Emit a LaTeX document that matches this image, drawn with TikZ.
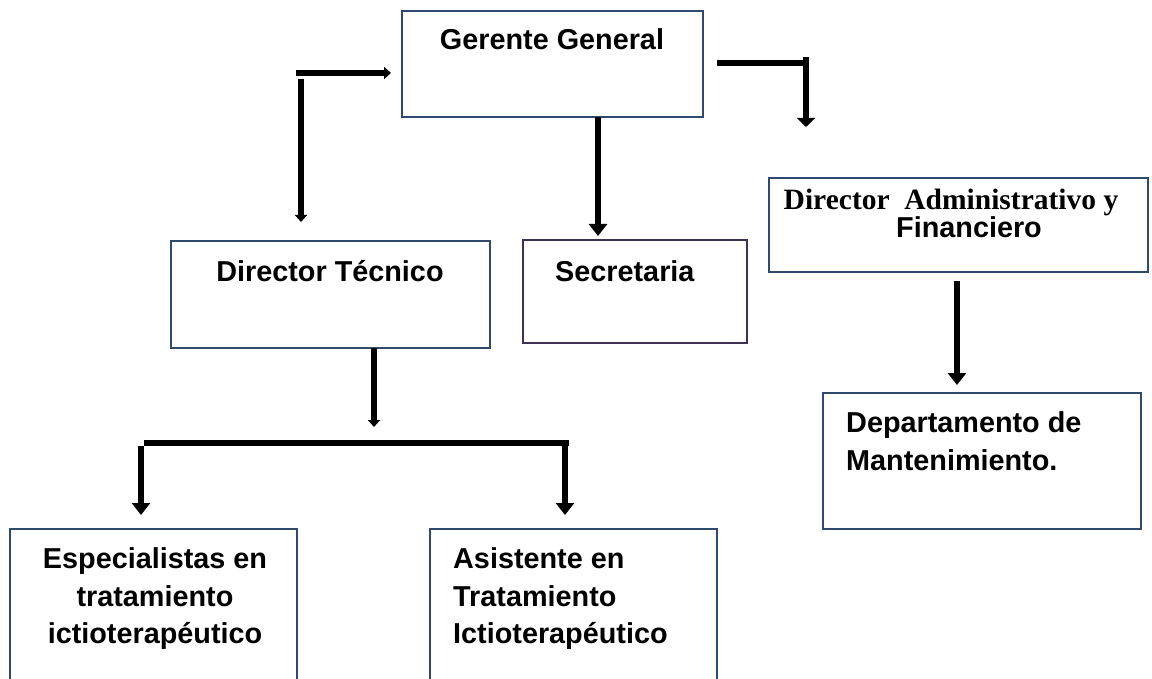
\documentclass[tikz,border=0pt]{standalone}
\usepackage{fontspec}
\setmainfont{Liberation Sans}
\newfontfamily\timesfam{Liberation Serif}
\usetikzlibrary{arrows.meta}
\definecolor{boxblue}{HTML}{2E4A6E}
\definecolor{boxpurple}{HTML}{3F3151}
\begin{document}
\begin{tikzpicture}[x=1pt,y=-1pt,
  box/.style={draw=boxblue,line width=2.5pt,inner sep=0pt,fill=white},
  txt/.style={font=\fontsize{28.8}{34}\selectfont\bfseries,inner sep=0pt},
  sertxt/.style={font=\timesfam\bfseries\fontsize{29.5}{34}\selectfont,inner sep=0pt},
  conn/.style={line width=6pt},
  bighead/.style={-{Triangle[width=18pt,length=12pt]}},
  flathead/.style={-{Triangle[width=18pt,length=9pt]}},
  smallhead/.style={-{Triangle[width=12pt,length=7pt]}}]
\useasboundingbox (0,0) rectangle (1152,679);
\clip (0,0) rectangle (1152,679);

% boxes
\node[box,minimum width=301pt,minimum height=106pt] (gg) at (552.5,64) {};
\node[box,minimum width=319pt,minimum height=107pt] (dt) at (330.5,294.5) {};
\node[box,draw=boxpurple,minimum width=224pt,minimum height=103pt] (sec) at (635,291.5) {};
\node[box,minimum width=379pt,minimum height=94pt] (daf) at (958.5,225) {};
\node[box,minimum width=318pt,minimum height=136pt] (dep) at (982,461) {};
\node[box,minimum width=287pt,minimum height=171pt] (esp) at (153.5,614.5) {};
\node[box,minimum width=287pt,minimum height=171pt] (asi) at (573.5,614.5) {};

% texts
\node[txt,anchor=base] (gg-t) at (552,50) {Gerente General};
\node[txt,anchor=base] (dt-t) at (330,282) {Director Técnico};
\node[txt,anchor=base west] (sec-t) at (555,282) {Secretaria};
\node[sertxt,anchor=base] (daf-t1) at (951,210) {Director\ \ Administrativo y};
\node[txt,anchor=base] (daf-t2) at (969,238) {Financiero};
\node[txt,anchor=base west] (dep-t1) at (846,432) {Departamento de};
\node[txt,anchor=base west] (dep-t2) at (846,470) {Mantenimiento.};
\node[txt,anchor=base] (esp-t1) at (155,568) {Especialistas en};
\node[txt,anchor=base] (esp-t2) at (155,606) {tratamiento};
\node[txt,anchor=base] (esp-t3) at (155,643) {ictioterapéutico};
\node[txt,anchor=base west] (asi-t1) at (453,568) {Asistente en};
\node[txt,anchor=base west] (asi-t2) at (453,606) {Tratamiento};
\node[txt,anchor=base west] (asi-t3) at (453,643) {Ictioterapéutico};

% connector points
\coordinate (lh1) at (296,73);
\coordinate (lh2) at (391,73);
\coordinate (lv1) at (301,79);
\coordinate (lv2) at (301,222);
\coordinate (c1) at (598,117);
\coordinate (c2) at (598,236);
\coordinate (rh1) at (717,63);
\coordinate (rh2) at (809,63);
\coordinate (rv1) at (806,57);
\coordinate (rv2) at (806,127);
\coordinate (d1) at (374,348);
\coordinate (d2) at (374,427);
\coordinate (bh1) at (144,443);
\coordinate (bh2) at (569,443);
\coordinate (bl1) at (141,446);
\coordinate (bl2) at (141,515);
\coordinate (br1) at (565,443);
\coordinate (br2) at (565,515);
\coordinate (a1) at (957,281);
\coordinate (a2) at (957,385);

% connectors
\draw[conn,smallhead] (lh1) -- (lh2);
\draw[conn,smallhead] (lv1) -- (lv2);
\draw[conn,bighead] (c1) -- (c2);
\draw[conn] (rh1) -- (rh2);
\draw[conn,flathead] (rv1) -- (rv2);
\draw[conn,smallhead] (d1) -- (d2);
\draw[conn] (bh1) -- (bh2);
\draw[conn,bighead] (bl1) -- (bl2);
\draw[conn,bighead] (br1) -- (br2);
\draw[conn,bighead] (a1) -- (a2);
\end{tikzpicture}
\end{document}
